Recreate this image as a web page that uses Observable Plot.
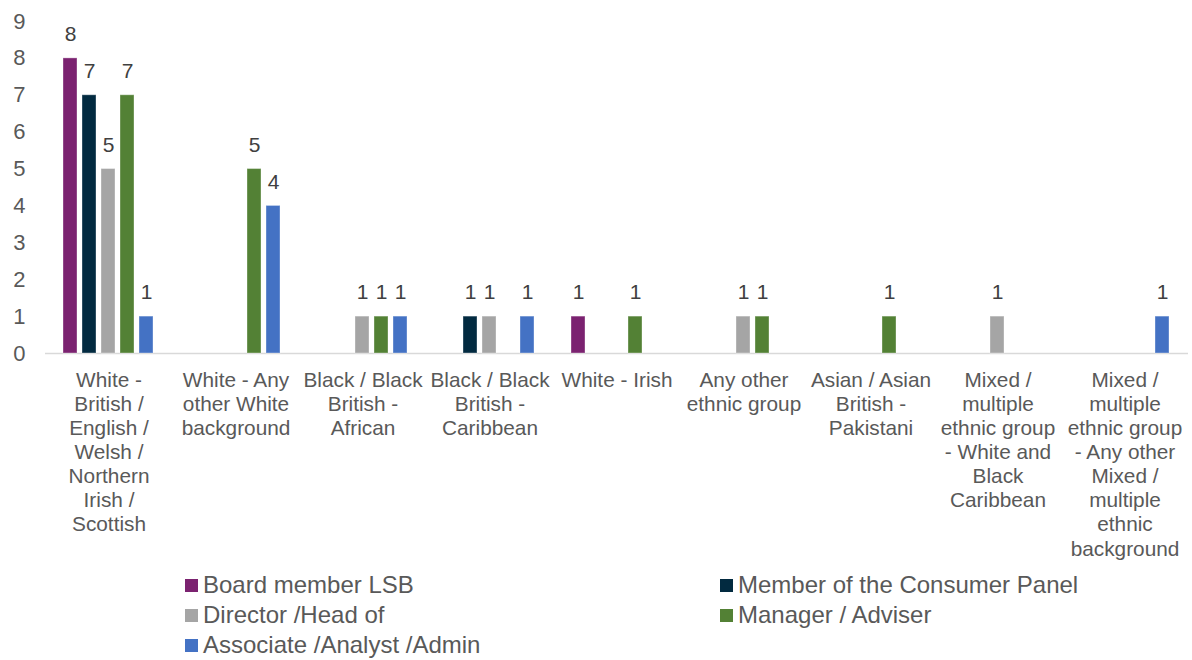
<!DOCTYPE html>
<html>
<head>
<meta charset="utf-8">
<script src="https://cdn.jsdelivr.net/npm/d3@7"></script>
<script src="https://cdn.jsdelivr.net/npm/@observablehq/plot@0.6"></script>
<style>
  body { margin: 0; background: #fff; font-family: "Liberation Sans", Arial, sans-serif; }
  #chart svg { display: block; }
  #legend { display: grid; grid-template-columns: 535px auto; grid-auto-rows: 30px; margin-left: 185px; padding-top: 5px; }
  .item { display: flex; align-items: center; font-size: 24px; color: #595959; white-space: nowrap; }
  .sw { width: 13px; height: 13px; margin-right: 5px; flex: none; }
</style>
</head>
<body>
<div id="chart"></div>
<div id="legend"></div>
<script>
const categories = [
  "White - British / English / Welsh / Northern Irish / Scottish",
  "White - Any other White background",
  "Black / Black British - African",
  "Black / Black British - Caribbean",
  "White - Irish",
  "Any other ethnic group",
  "Asian / Asian British - Pakistani",
  "Mixed / multiple ethnic group - White and Black Caribbean",
  "Mixed / multiple ethnic group - Any other Mixed / multiple ethnic background"
];
const categoryLabels = [
  "White -\nBritish /\nEnglish /\nWelsh /\nNorthern\nIrish /\nScottish",
  "White - Any\nother White\nbackground",
  "Black / Black\nBritish -\nAfrican",
  "Black / Black\nBritish -\nCaribbean",
  "White - Irish",
  "Any other\nethnic group",
  "Asian / Asian\nBritish -\nPakistani",
  "Mixed /\nmultiple\nethnic group\n- White and\nBlack\nCaribbean",
  "Mixed /\nmultiple\nethnic group\n- Any other\nMixed /\nmultiple\nethnic\nbackground"
];
const series = ["Board member LSB", "Member of the Consumer Panel", "Director /Head of", "Manager / Adviser", "Associate /Analyst /Admin"];
const colors = ["#7B2270", "#022A40", "#A5A5A5", "#538135", "#4472C4"];
const boardValues     = [8, 0, 0, 0, 1, 0, 0, 0, 0];
const panelValues     = [7, 0, 0, 1, 0, 0, 0, 0, 0];
const directorValues  = [5, 0, 1, 1, 0, 1, 0, 1, 0];
const managerValues   = [7, 5, 1, 0, 1, 1, 1, 0, 0];
const associateValues = [1, 4, 1, 1, 0, 0, 0, 0, 1];
const yTicks = [0, 1, 2, 3, 4, 5, 6, 7, 8, 9];

const seriesValues = [boardValues, panelValues, directorValues, managerValues, associateValues];
const data = [];
seriesValues.forEach((vals, si) => vals.forEach((v, ci) => {
  if (v > 0) data.push({category: categories[ci], series: series[si], value: v});
}));
const labelOf = new Map(categories.map((c, i) => [c, categoryLabels[i]]));

const chart = Plot.plot({
  width: 1192,
  height: 565,
  marginLeft: 45,
  marginRight: 4,
  marginTop: 21,
  marginBottom: 212,
  style: {fontFamily: "'Liberation Sans', Arial, sans-serif", fontSize: "21px", color: "#595959", background: "#fff"},
  fx: {domain: categories, padding: 0, axis: null},
  x: {domain: series, axis: null, paddingInner: 0.25, paddingOuter: 0.88},
  y: {domain: [0, 9], label: null},
  color: {domain: series, range: colors},
  marks: [
    Plot.axisY({ticks: yTicks, tickSize: 0, tickPadding: 20, fontSize: 22, fill: "#595959", label: null}),
    Plot.ruleY([0], {stroke: "#d9d9d9", strokeWidth: 1.5}),
    Plot.barY(data, {fx: "category", x: "series", y: "value", fill: "series", stroke: "#ffffff", strokeOpacity: 0.35, strokeWidth: 1}),
    Plot.text(data, {fx: "category", x: "series", y: "value", text: d => String(d.value), dy: -24, fontSize: 21, fill: "#404040"}),
    Plot.text(categories, {fx: d => d, text: d => labelOf.get(d), frameAnchor: "bottom", lineAnchor: "top", dy: 16, fontSize: 20.8, lineHeight: 1.16, fill: "#595959"})
  ]
});
document.getElementById("chart").appendChild(chart);

const legend = document.getElementById("legend");
series.forEach((s, i) => {
  const item = document.createElement("div");
  item.className = "item";
  const sw = document.createElement("span");
  sw.className = "sw";
  sw.style.background = colors[i];
  item.appendChild(sw);
  item.appendChild(document.createTextNode(s));
  legend.appendChild(item);
});
</script>
</body>
</html>
